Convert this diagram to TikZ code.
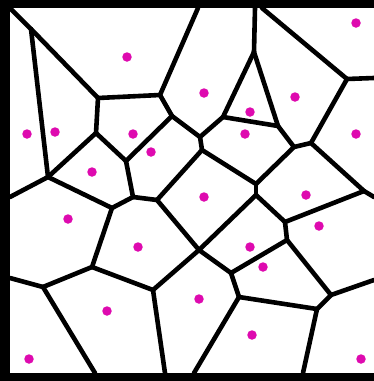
\documentclass[tikz,border=0pt]{standalone}
\definecolor{site}{RGB}{222,10,175}
\tikzset{
  edge/.style={line width=4.6pt, line cap=round, line join=round, black},
  sitedot/.style={circle, fill=site, inner sep=0pt, minimum size=9.5pt}
}
\begin{document}
\begin{tikzpicture}[x=1pt,y=-1pt]
\useasboundingbox (0,0) rectangle (374,381);
% frame (top, left, bottom)
\fill[black] (0,0) rectangle (374,8);
\fill[black] (0,0) rectangle (10,381);
\fill[black] (0,373) rectangle (374,381);
% Voronoi vertices and boundary end points
\coordinate (tl) at (10,8);
\coordinate (V1) at (31,29);
\coordinate (A) at (98,98);
\coordinate (C) at (160,95);
\coordinate (Ct) at (198,8);
\coordinate (B) at (96,133);
\coordinate (V2) at (48,177);
\coordinate (V2l) at (10,197);
\coordinate (E) at (126,161);
\coordinate (D) at (172,116);
\coordinate (F) at (200,137);
\coordinate (G) at (223,117);
\coordinate (H) at (254,52);
\coordinate (Ht) at (255,8);
\coordinate (M) at (278,126);
\coordinate (J) at (294,147);
\coordinate (L) at (311,143);
\coordinate (K) at (347,79);
\coordinate (Kt) at (262,8);
\coordinate (Kr) at (374,78);
\coordinate (Q) at (364,191);
\coordinate (Qr) at (374,197);
\coordinate (N) at (202,150);
\coordinate (P1) at (256,184);
\coordinate (P2) at (256,195);
\coordinate (O) at (157,200);
\coordinate (X) at (133,197);
\coordinate (W) at (112,208);
\coordinate (Z) at (92,267);
\coordinate (AA) at (43,287);
\coordinate (AAl) at (10,278);
\coordinate (AAb) at (95,373);
\coordinate (AB) at (153,290);
\coordinate (ABb) at (165,373);
\coordinate (U) at (199,250);
\coordinate (AD) at (231,273);
\coordinate (AE) at (287,240);
\coordinate (T) at (285,222);
\coordinate (AC) at (239,297);
\coordinate (ACb) at (194,373);
\coordinate (S) at (317,309);
\coordinate (Sb) at (303,373);
\coordinate (R) at (331,295);
\coordinate (Rr) at (374,280);
% edges
\draw[edge] (tl) -- (V1);
\draw[edge] (V1) -- (A);
\draw[edge] (V1) -- (V2);
\draw[edge] (A) -- (C);
\draw[edge] (A) -- (B);
\draw[edge] (C) -- (Ct);
\draw[edge] (C) -- (D);
\draw[edge] (B) -- (V2);
\draw[edge] (B) -- (E);
\draw[edge] (V2) -- (V2l);
\draw[edge] (V2) -- (W);
\draw[edge] (E) -- (D);
\draw[edge] (E) -- (X);
\draw[edge] (D) -- (F);
\draw[edge] (F) -- (G);
\draw[edge] (F) -- (N);
\draw[edge] (G) -- (H);
\draw[edge] (G) -- (M);
\draw[edge] (H) -- (Ht);
\draw[edge] (H) -- (M);
\draw[edge] (M) -- (J);
\draw[edge] (J) -- (L);
\draw[edge] (J) -- (P1);
\draw[edge] (L) -- (K);
\draw[edge] (L) -- (Q);
\draw[edge] (K) -- (Kt);
\draw[edge] (K) -- (Kr);
\draw[edge] (Q) -- (Qr);
\draw[edge] (Q) -- (T);
\draw[edge] (N) -- (O);
\draw[edge] (N) -- (P1);
\draw[edge] (P1) -- (P2);
\draw[edge] (P2) -- (U);
\draw[edge] (P2) -- (T);
\draw[edge] (X) -- (O);
\draw[edge] (X) -- (W);
\draw[edge] (W) -- (Z);
\draw[edge] (O) -- (U);
\draw[edge] (Z) -- (AA);
\draw[edge] (Z) -- (AB);
\draw[edge] (AA) -- (AAl);
\draw[edge] (AA) -- (AAb);
\draw[edge] (AB) -- (U);
\draw[edge] (AB) -- (ABb);
\draw[edge] (U) -- (AD);
\draw[edge] (AD) -- (AE);
\draw[edge] (AD) -- (AC);
\draw[edge] (T) -- (AE);
\draw[edge] (AE) -- (R);
\draw[edge] (AC) -- (S);
\draw[edge] (AC) -- (ACb);
\draw[edge] (S) -- (R);
\draw[edge] (S) -- (Sb);
\draw[edge] (R) -- (Rr);
% sites
\node[sitedot] (s1) at (127,57) {};
\node[sitedot] (s2) at (356,23) {};
\node[sitedot] (s3) at (204,93) {};
\node[sitedot] (s4) at (295,97) {};
\node[sitedot] (s5) at (250,112) {};
\node[sitedot] (s6) at (27,134) {};
\node[sitedot] (s7) at (55,132) {};
\node[sitedot] (s8) at (133,134) {};
\node[sitedot] (s9) at (151,152) {};
\node[sitedot] (s10) at (245,134) {};
\node[sitedot] (s11) at (356,134) {};
\node[sitedot] (s12) at (92,172) {};
\node[sitedot] (s13) at (204,197) {};
\node[sitedot] (s14) at (306,195) {};
\node[sitedot] (s15) at (68,219) {};
\node[sitedot] (s16) at (319,226) {};
\node[sitedot] (s17) at (138,247) {};
\node[sitedot] (s18) at (250,247) {};
\node[sitedot] (s19) at (263,267) {};
\node[sitedot] (s20) at (107,311) {};
\node[sitedot] (s21) at (199,299) {};
\node[sitedot] (s22) at (252,335) {};
\node[sitedot] (s23) at (29,359) {};
\node[sitedot] (s24) at (361,359) {};
\end{tikzpicture}
\end{document}
